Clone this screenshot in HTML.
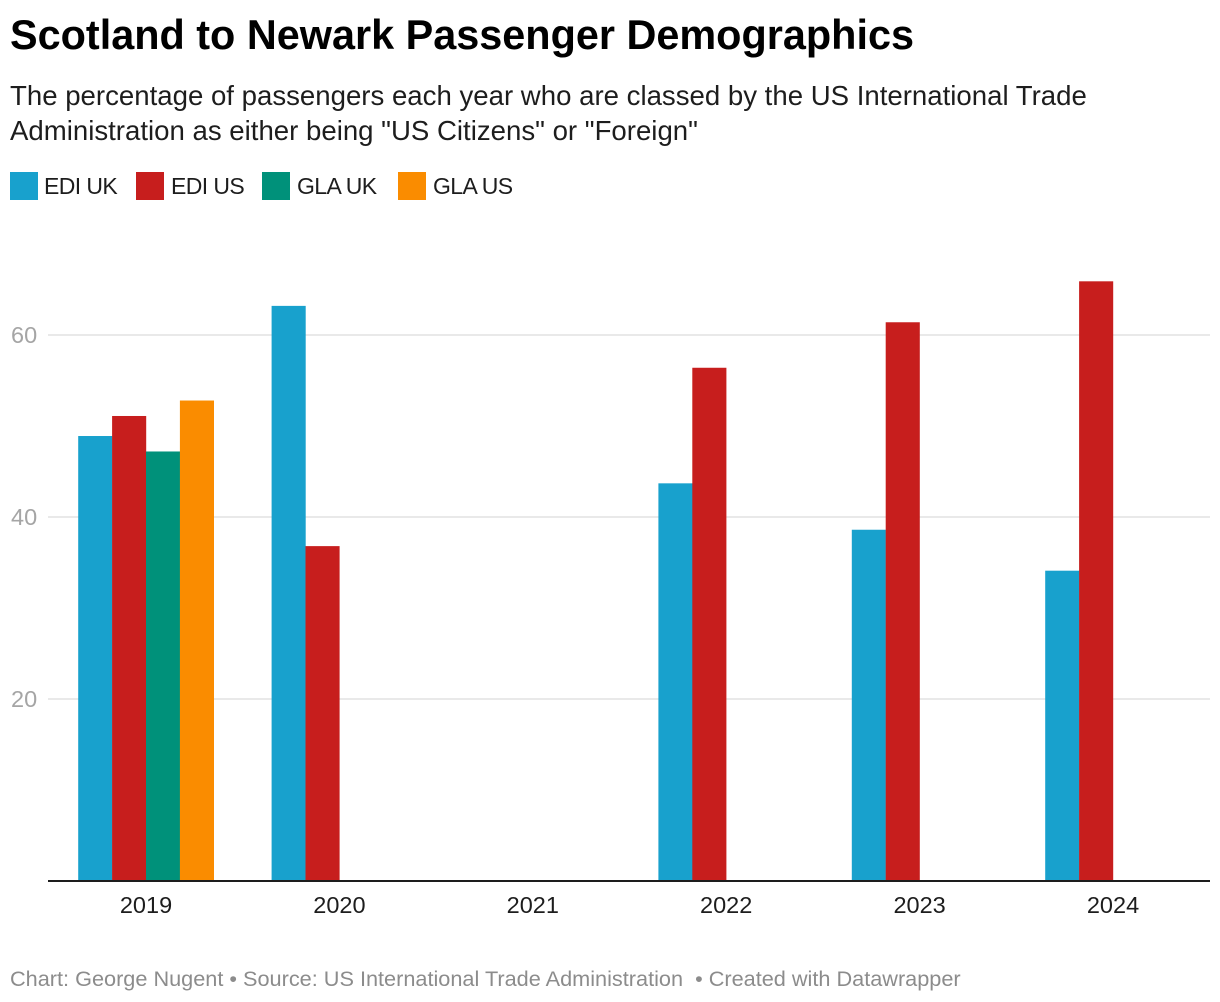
<!DOCTYPE html>
<html>
<head>
<meta charset="utf-8">
<style>
html,body{margin:0;padding:0;background:#fff;}
body{width:1220px;height:1002px;position:relative;overflow:hidden;font-family:"Liberation Sans",sans-serif;}
.abs{position:absolute;white-space:nowrap;}
.sw{position:absolute;top:172px;width:28px;height:28px;}
.lg{position:absolute;top:172px;font-size:23px;line-height:28px;color:#1d1d1d;white-space:nowrap;letter-spacing:-0.6px;}
svg{position:absolute;left:0;top:0;}
</style>
</head>
<body>
<div class="abs" style="left:10px;top:9px;font-size:41.4px;line-height:52px;font-weight:bold;color:#000;">Scotland to Newark Passenger Demographics</div>
<div class="abs" style="left:10px;top:78px;font-size:27.6px;line-height:35px;color:#1d1d1d;">The percentage of passengers each year who are classed by the US International Trade<br>Administration as either being "US Citizens" or "Foreign"</div>

<div class="sw" style="left:10px;background:#18a1cd;"></div>
<div class="lg" style="left:44px;">EDI UK</div>
<div class="sw" style="left:136px;background:#c71e1d;"></div>
<div class="lg" style="left:171px;">EDI US</div>
<div class="sw" style="left:262px;background:#00917a;"></div>
<div class="lg" style="left:297px;">GLA UK</div>
<div class="sw" style="left:398px;background:#fa8c00;"></div>
<div class="lg" style="left:433px;">GLA US</div>

<svg id="chart" width="1220" height="1002" xmlns="http://www.w3.org/2000/svg"></svg>

<div class="abs" style="left:10px;top:965px;font-size:21.7px;line-height:28px;color:#8c8c8c;">Chart: George Nugent • Source: US International Trade Administration &nbsp;• Created with Datawrapper</div>

<script>
const categories = ['2019', '2020', '2021', '2022', '2023', '2024'];
const seriesNames = ['EDI UK', 'EDI US', 'GLA UK', 'GLA US'];
const ediUk = [48.9, 63.2, null, 43.7, 38.6, 34.1];
const ediUs = [51.1, 36.8, null, 56.4, 61.4, 65.9];
const glaUk = [47.2, null, null, null, null, null];
const glaUs = [52.8, null, null, null, null, null];
const yTicks = [20, 40, 60];

const seriesColors = ['#18a1cd', '#c71e1d', '#00917a', '#fa8c00'];
const svg = document.getElementById('chart');
const NS = 'http://www.w3.org/2000/svg';
const plotLeft = 48, plotRight = 1210, baseY = 881;
const pxPerUnit = 9.1;
const barW = 33.9;
const bandStep = 193.4, firstCenter = 146;

function yScale(v) { return baseY - v * pxPerUnit; }
function xCenter(i) { return firstCenter + i * bandStep; }

yTicks.forEach(function (t) {
  const line = document.createElementNS(NS, 'line');
  
  
  line.setAttribute('x1', plotLeft);
  line.setAttribute('x2', plotRight);
  line.setAttribute('y1', yScale(t));
  line.setAttribute('y2', yScale(t));
  line.setAttribute('stroke', '#e2e2e2');
  line.setAttribute('stroke-width', '1.5');
  svg.appendChild(line);

  const label = document.createElementNS(NS, 'text');
  
  
  label.setAttribute('x', 11);
  label.setAttribute('y', yScale(t) + 8);
  label.setAttribute('font-size', '23.5');
  label.setAttribute('fill', '#a5a5a5');
  label.setAttribute('font-family', '"Liberation Sans", sans-serif');
  label.textContent = t;
  svg.appendChild(label);
});

const allSeries = [ediUk, ediUs, glaUk, glaUs];
categories.forEach(function (cat, i) {
  const slotStart = xCenter(i) - allSeries.length * barW / 2;
  allSeries.forEach(function (s, k) {
    const v = s[i];
    if (v === null) { return; }
    const r = document.createElementNS(NS, 'rect');
    
    
    r.setAttribute('x', slotStart + k * barW);
    r.setAttribute('y', yScale(v));
    r.setAttribute('width', barW + 0.2);
    r.setAttribute('height', baseY - yScale(v));
    r.setAttribute('fill', seriesColors[k]);
    svg.appendChild(r);
  });

  const label = document.createElementNS(NS, 'text');
  
  
  label.setAttribute('x', xCenter(i));
  label.setAttribute('y', 913);
  label.setAttribute('text-anchor', 'middle');
  label.setAttribute('font-size', '23.5');
  label.setAttribute('fill', '#1d1d1d');
  label.setAttribute('font-family', '"Liberation Sans", sans-serif');
  label.textContent = cat;
  svg.appendChild(label);
});

const axis = document.createElementNS(NS, 'line');


axis.setAttribute('x1', plotLeft);
axis.setAttribute('x2', plotRight);
axis.setAttribute('y1', baseY);
axis.setAttribute('y2', baseY);
axis.setAttribute('stroke', '#1d1d1d');
axis.setAttribute('stroke-width', '2');
svg.appendChild(axis);
</script>
</body>
</html>
